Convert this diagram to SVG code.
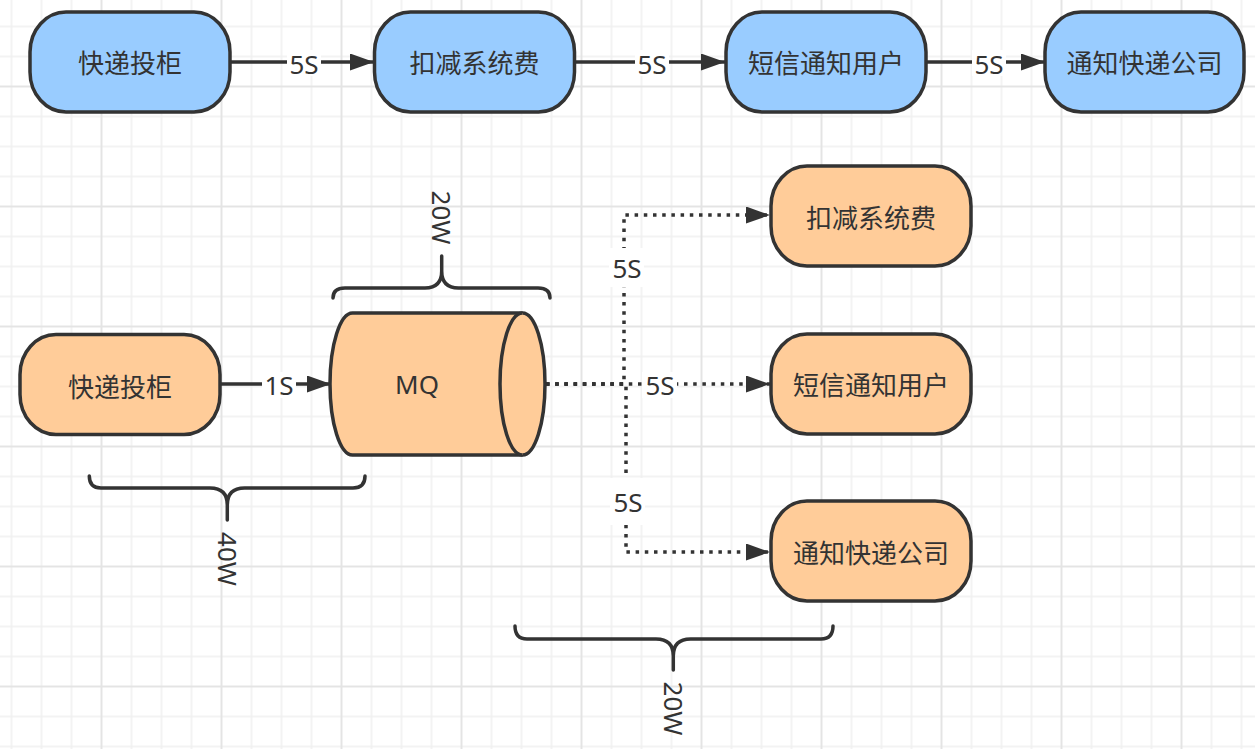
<svg xmlns="http://www.w3.org/2000/svg" width="1255" height="749" viewBox="0 0 1255 749">
  <style>
    .node rect { stroke: #333333; stroke-width: 3.5; }
    .blue rect { fill: #99CCFF; }
    .orange rect, .orange path { fill: #FFCC99; }
    .cyl path { stroke: #333333; stroke-width: 3.5; }
    text { font-family: "Noto Sans", "Noto Sans CJK SC", sans-serif; font-size: 26px; fill: #333333; text-anchor: middle; }
    .edge { fill: none; stroke: #333333; stroke-width: 3.5; }
    .dot { fill: none; stroke: #333333; stroke-width: 3.5; stroke-dasharray: 3.5 5.7; }
    .lblbg { fill: #ffffff; }
    .brace { fill: none; stroke: #333333; stroke-width: 3.5; stroke-linecap: round; stroke-linejoin: round; }
  </style>
  <defs>
    <pattern id="grid" patternUnits="userSpaceOnUse" x="-3.5" y="-18.5" width="120" height="120">
      <path d="M15,0V120M45,0V120M75,0V120M0,15H120M0,45H120M0,75H120" stroke="#f0f0f0" stroke-width="1.5" fill="none"/>
      <path d="M105,0V120M0,105H120" stroke="#e4e4e4" stroke-width="2" fill="none"/>
    </pattern>
    <marker id="arrow" markerUnits="userSpaceOnUse" markerWidth="26" markerHeight="18" refX="24" refY="8.5" orient="auto">
      <path d="M0,0 L24,8.5 L0,17 Z" fill="#333333"/>
    </marker>
  </defs>
  <rect x="0" y="0" width="1255" height="749" fill="#ffffff"/>
  <rect x="0" y="0" width="1255" height="749" fill="url(#grid)"/>

  <g id="connectors">
    <path class="edge" d="M231,62 H374" marker-end="url(#arrow)"/>
    <path class="edge" d="M576,62 H725" marker-end="url(#arrow)"/>
    <path class="edge" d="M927,62 H1045" marker-end="url(#arrow)"/>
    <path class="edge" d="M221,384 H331" marker-end="url(#arrow)"/>
    <path class="dot" d="M546,384 H624 V215 H770" marker-end="url(#arrow)"/>
    <path class="dot" d="M546,384 H770" marker-end="url(#arrow)"/>
    <path class="dot" d="M546,384 H626 V552 H770" marker-end="url(#arrow)"/>

    <rect class="lblbg" x="287" y="50" width="34" height="26"/>
    <text x="304" y="74">5S</text>
    <rect class="lblbg" x="635" y="50" width="34" height="26"/>
    <text x="652" y="74">5S</text>
    <rect class="lblbg" x="972" y="50" width="34" height="26"/>
    <text x="989" y="74">5S</text>
    <rect class="lblbg" x="262" y="372" width="34" height="26"/>
    <text x="279" y="395">1S</text>
    <rect class="lblbg" x="609" y="248" width="35" height="39"/>
    <text x="627" y="278">5S</text>
    <rect class="lblbg" x="642" y="372" width="35" height="26"/>
    <text x="660" y="395">5S</text>
    <rect class="lblbg" x="610" y="478" width="35" height="47"/>
    <text x="628" y="512">5S</text>
  </g>

  <g id="top-kuaidi" class="node blue">
    <rect x="30" y="12" width="200" height="100" rx="36" ry="40"/>
    <text x="130" y="73">快递投柜</text>
  </g>
  <g id="top-koujian" class="node blue">
    <rect x="374.5" y="12" width="200" height="100" rx="36" ry="40"/>
    <text x="474.5" y="73">扣减系统费</text>
  </g>
  <g id="top-duanxin" class="node blue">
    <rect x="726" y="12" width="200" height="100" rx="36" ry="40"/>
    <text x="826" y="73">短信通知用户</text>
  </g>
  <g id="top-tongzhi" class="node blue">
    <rect x="1045" y="12" width="199" height="100" rx="36" ry="40"/>
    <text x="1144.5" y="73">通知快递公司</text>
  </g>

  <g id="bot-kuaidi" class="node orange">
    <rect x="20" y="334.5" width="200" height="100" rx="36" ry="40"/>
    <text x="120" y="396.5">快递投柜</text>
  </g>
  <g id="mq" class="cyl orange">
    <path d="M352.5,313 L522.5,313 A22.5,71 0 0 1 522.5,455 L352.5,455 A22.5,71 0 0 1 352.5,313 Z"/>
    <path d="M522.5,313 A22.5,71 0 0 0 522.5,455" fill="none"/>
    <text x="417" y="394">MQ</text>
  </g>
  <g id="bot-koujian" class="node orange">
    <rect x="771" y="166" width="200" height="100" rx="36" ry="40"/>
    <text x="871" y="227.5">扣减系统费</text>
  </g>
  <g id="bot-duanxin" class="node orange">
    <rect x="771" y="334" width="200" height="100" rx="36" ry="40"/>
    <text x="871" y="395">短信通知用户</text>
  </g>
  <g id="bot-tongzhi" class="node orange">
    <rect x="771" y="501" width="200" height="100" rx="36" ry="40"/>
    <text x="871" y="562.5">通知快递公司</text>
  </g>

  <g id="brace-mq">
    <path class="brace" d="M333,298 Q333,288 345,288 L425,288 Q441.7,288 441.7,271 L441.7,256 L441.7,271 Q441.7,288 458.4,288 L538,288 Q550,288 550,298"/>
    <text transform="translate(441.7,217.5) rotate(90)" x="0" y="9.5">20W</text>
  </g>
  <g id="brace-left">
    <path class="brace" d="M89.3,476 Q89.3,488 101,488 L210,488 Q227.3,488 227.3,505 L227.3,520 L227.3,505 Q227.3,488 244.6,488 L353,488 Q365,488 365,476"/>
    <text transform="translate(227,559) rotate(90)" x="0" y="9.5">40W</text>
  </g>
  <g id="brace-right">
    <path class="brace" d="M515,626 Q515,639 527,639 L656,639 Q673.3,639 673.3,656 L673.3,670 L673.3,656 Q673.3,639 690.6,639 L821,639 Q833,639 833,626"/>
    <text transform="translate(673.3,708.5) rotate(90)" x="0" y="9.5">20W</text>
  </g>
</svg>
